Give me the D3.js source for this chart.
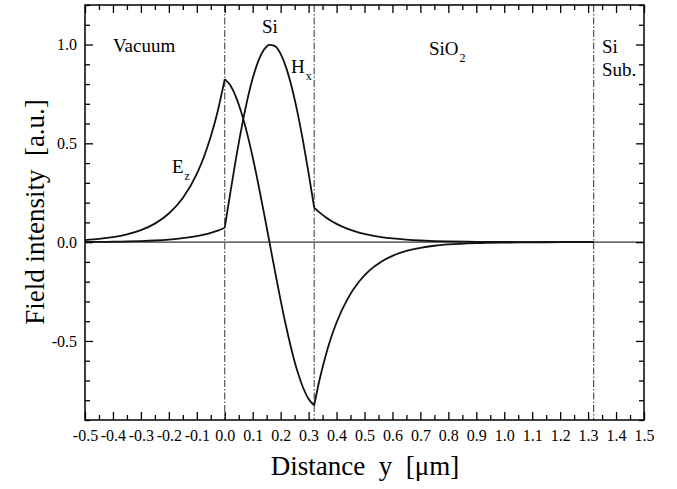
<!DOCTYPE html>
<html><head><meta charset="utf-8">
<script src="https://cdn.jsdelivr.net/npm/d3@7"></script>
<style>html,body{margin:0;padding:0;background:#fff;} svg{display:block;font-family:"Liberation Serif","Times New Roman",serif;}</style>
</head><body><svg id="c" width="677" height="489"></svg>
<script>
// ---- data ----
const vacX  = [-0.5,-0.45,-0.4,-0.35,-0.3,-0.25,-0.2,-0.15,-0.1,-0.075,-0.05,-0.025,0];
const vacEz = [0.0106,0.0165,0.0254,0.0393,0.0607,0.0937,0.1448,0.2237,0.3456,0.4296,0.5340,0.6637,0.825];
const vacHx = [0.0009,0.0015,0.0022,0.0035,0.0054,0.0083,0.0128,0.0198,0.0306,0.0380,0.0473,0.0587,0.073];
const siX  = [0,0.02,0.04,0.06,0.08,0.10,0.12,0.14,0.16,0.18,0.20,0.22,0.24,0.26,0.28,0.30,0.32];
const siEz = [0.825,0.7936,0.7355,0.6536,0.5505,0.4295,0.2944,0.1496,0,-0.1496,-0.2944,-0.4295,-0.5505,-0.6536,-0.7355,-0.7936,-0.8255];
const siHx = [0.073,0.2510,0.4213,0.5772,0.7146,0.8288,0.9159,0.9731,0.9987,0.9917,0.9523,0.8819,0.7827,0.6582,0.5124,0.3493,0.175];
const oxX  = [0.32,0.34,0.36,0.38,0.40,0.44,0.48,0.52,0.56,0.60,0.65,0.70,0.75,0.80,0.90,1.00,1.10,1.20,1.32];
const oxEz = [-0.8255,-0.6916,-0.5794,-0.4855,-0.4066,-0.2855,-0.2003,-0.1406,-0.0987,-0.0693,-0.0445,-0.0286,-0.0183,-0.0118,-0.0049,-0.0020,-0.0008,-0.0003,-0.0001];
const oxHx = [0.175,0.1491,0.1271,0.1083,0.0923,0.0670,0.0487,0.0353,0.0257,0.0186,0.0125,0.0084,0.0056,0.0038,0.0017,0.0008,0.0003,0.0001,0.0001];
const interfaces = [0, 0.32, 1.32];

const xMajor = [-0.5,-0.4,-0.3,-0.2,-0.1,0,0.1,0.2,0.3,0.4,0.5,0.6,0.7,0.8,0.9,1.0,1.1,1.2,1.3,1.4,1.5];
const xLabels = ["-0.5","-0.4","-0.3","-0.2","-0.1","0.0","0.1","0.2","0.3","0.4","0.5","0.6","0.7","0.8","0.9","1.0","1.1","1.2","1.3","1.4","1.5"];
const xMinor = [-0.45,-0.35,-0.25,-0.15,-0.05,0.05,0.15,0.25,0.35,0.45,0.55,0.65,0.75,0.85,0.95,1.05,1.15,1.25,1.35,1.45];
const yMajor = [-0.5,0,0.5,1.0];
const yLabels = ["-0.5","0.0","0.5","1.0"];
const yMinor = [-0.9,-0.8,-0.7,-0.6,-0.4,-0.3,-0.2,-0.1,0.1,0.2,0.3,0.4,0.6,0.7,0.8,0.9,1.1,1.2];

// ---- layout ----
const L=85, R=644, T=5, B=420;
const x = d3.scaleLinear().domain([-0.5,1.5]).range([L,R]);
const y = d3.scaleLinear().domain([-0.9,1.2]).range([B,T]);
const svg = d3.select("#c");
const FF = '"Liberation Serif","Times New Roman",serif';

function styleAxis(g, fs){
  g.select(".domain").remove();
  g.attr("font-family", FF).attr("font-size", fs||16);
  g.selectAll(".tick line").attr("stroke","#000").attr("stroke-width",1.3);
  g.selectAll(".tick text").attr("fill","#000");
}

// interfaces (dash-dot)
svg.append("g").selectAll("line").data(interfaces).join("line")
  .attr("x1",d=>x(d)).attr("x2",d=>x(d)).attr("y1",T).attr("y2",B)
  .attr("stroke","#333").attr("stroke-width",1).attr("stroke-dasharray","7,2,1.5,2");

// zero line
svg.append("line").attr("x1",x(-0.5)).attr("x2",x(1.5)).attr("y1",y(0)).attr("y2",y(0))
  .attr("stroke","#6e6e6e").attr("stroke-width",1.6);

// axes
svg.append("g").attr("transform",`translate(0,${B})`)
  .call(d3.axisBottom(x).tickValues(xMajor).tickSize(-8).tickPadding(10).tickFormat((d,i)=>xLabels[i]))
  .call(g=>styleAxis(g,16));
svg.append("g").attr("transform",`translate(0,${B})`)
  .call(d3.axisBottom(x).tickValues(xMinor).tickSize(-5).tickFormat(""))
  .call(g=>styleAxis(g));
svg.append("g").attr("transform",`translate(0,${T})`)
  .call(d3.axisTop(x).tickValues(xMajor).tickSize(-8).tickFormat(""))
  .call(g=>styleAxis(g));
svg.append("g").attr("transform",`translate(0,${T})`)
  .call(d3.axisTop(x).tickValues(xMinor).tickSize(-5).tickFormat(""))
  .call(g=>styleAxis(g));
svg.append("g").attr("transform",`translate(${L},0)`)
  .call(d3.axisLeft(y).tickValues(yMajor).tickSize(-8).tickPadding(8).tickFormat((d,i)=>yLabels[i]))
  .call(g=>styleAxis(g,16));
svg.append("g").attr("transform",`translate(${L},0)`)
  .call(d3.axisLeft(y).tickValues(yMinor).tickSize(-5).tickFormat(""))
  .call(g=>styleAxis(g));
svg.append("g").attr("transform",`translate(${R},0)`)
  .call(d3.axisRight(y).tickValues(yMajor).tickSize(-8).tickFormat(""))
  .call(g=>styleAxis(g));
svg.append("g").attr("transform",`translate(${R},0)`)
  .call(d3.axisRight(y).tickValues(yMinor).tickSize(-5).tickFormat(""))
  .call(g=>styleAxis(g));

// curves
const line = d3.line().x(d=>x(d[0])).y(d=>y(d[1])).curve(d3.curveMonotoneX);
const segs = [
  d3.zip(vacX, vacEz), d3.zip(vacX, vacHx),
  d3.zip(siX, siEz), d3.zip(siX, siHx),
  d3.zip(oxX, oxEz), d3.zip(oxX, oxHx)
];
svg.append("g").selectAll("path").data(segs).join("path")
  .attr("d",line).attr("fill","none").attr("stroke","#111").attr("stroke-width",1.8)
  .attr("stroke-linejoin","round");

// frame
svg.append("rect").attr("x",L).attr("y",T).attr("width",R-L).attr("height",B-T)
  .attr("fill","none").attr("stroke","#000").attr("stroke-width",1.5);

// annotations
const ann = svg.append("g").attr("font-family",FF).attr("fill","#000");
function label(px, py, txt, sub, fs){
  const t = ann.append("text").attr("x",px).attr("y",py).attr("font-size",fs||19).text(txt);
  if(sub) t.append("tspan").attr("font-size",12).attr("dy",7).attr("dx",1).text(sub);
}
label(x(-0.4), 52, "Vacuum");
label(262, 33, "Si");
label(291, 73, "H", "x");
label(172, 173, "E", "z");
label(429, 55, "SiO", "2");
label(602, 53, "Si");
label(602, 76, "Sub.");

// axis titles
svg.append("text").attr("x",365).attr("y",475).attr("text-anchor","middle")
  .attr("font-family",FF).attr("font-size",27).text("Distance\u00a0\u00a0y\u00a0\u00a0[\u03bcm]");
svg.append("text").attr("transform","translate(44,212) rotate(-90)").attr("text-anchor","middle")
  .attr("font-family",FF).attr("font-size",27).text("Field intensity\u00a0\u00a0[a.u.]");
</script></body></html>
